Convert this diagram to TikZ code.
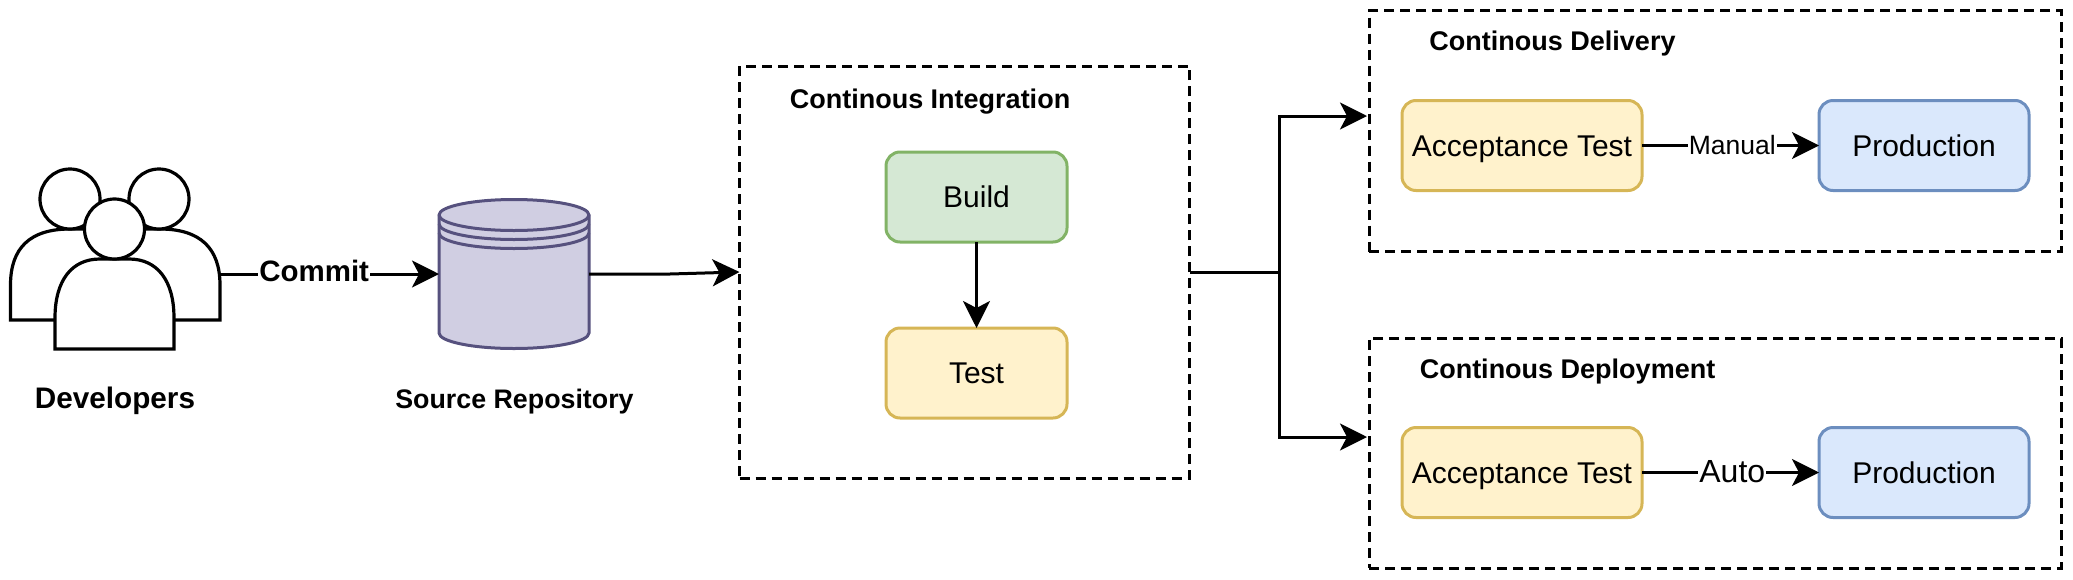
\documentclass[tikz,border=0pt]{standalone}
\usepackage{fontspec}
\setmainfont{Liberation Sans}
\usetikzlibrary{arrows.meta,shapes.geometric,calc,positioning}
\newcommand{\fsz}[1]{\fontsize{#1}{#1}\selectfont}
\definecolor{gfill}{HTML}{D5E8D4}\definecolor{gline}{HTML}{82B366}
\definecolor{yfill}{HTML}{FFF2CC}\definecolor{yline}{HTML}{D6B656}
\definecolor{bfill}{HTML}{DAE8FC}\definecolor{bline}{HTML}{6C8EBF}
\definecolor{pfill}{HTML}{D0CEE2}\definecolor{pline}{HTML}{56517E}
\tikzset{
  x=1pt,y=-1pt,
  every node/.style={inner sep=0pt,outer sep=0pt},
  stage/.style={draw,line width=3pt,rounded corners=14pt,minimum height=90pt,font=\fsz{30},text height=21.5pt,text depth=0pt},
  green stage/.style={stage,draw=gline,fill=gfill,minimum width=181pt},
  yellow stage/.style={stage,draw=yline,fill=yfill,minimum width=181pt},
  wide yellow/.style={stage,draw=yline,fill=yfill,minimum width=240pt},
  blue stage/.style={stage,draw=bline,fill=bfill,minimum width=210pt},
  group box/.style={draw=black,line width=3pt,dash pattern=on 10pt off 6pt},
  title/.style={font=\bfseries\fsz{27}},
  conn/.style={draw=black,line width=3pt,-{Stealth[length=27pt,width=27pt,inset=7pt]}},
  plain/.style={draw=black,line width=3pt},
  person/.style={draw=black,fill=white,line width=3.2pt},
  lbl/.style={fill=white,inner xsep=1pt,inner ysep=2pt},
}
\begin{document}
\begin{tikzpicture}
\useasboundingbox (0,0) rectangle (2073,579);
% group boxes
\node[group box,minimum width=450pt,minimum height=412pt] (ci) at (964.5,272) {};
\node[group box,minimum width=692pt,minimum height=241pt] (delivery) at (1715,131) {};
\node[group box,minimum width=692pt,minimum height=230pt] (deployment) at (1715,453) {};
% titles
\node[title] (citext) at (930,101.5) {Continous Integration};
\node[title] (delivtext) at (1552.5,44) {Continous Delivery};
\node[title] (deploytext) at (1567.5,371.5) {Continous Deployment};
% people
\path[person] (10.5,320) -- (10.5,285) .. controls (10.5,248) and (30,229) .. (70,229) -- (160,229)
  .. controls (200,229) and (220,248) .. (220,285) -- (220,320) -- cycle;
\node[person,circle,minimum size=60pt] (headl) at (70,199) {};
\node[person,circle,minimum size=60pt] (headr) at (159,199) {};
\path[person] (55,349) -- (55,318) .. controls (55,280) and (72,259) .. (100,259) -- (129,259)
  .. controls (157,259) and (174,280) .. (174,318) -- (174,349) -- cycle;
\node[person,circle,minimum size=60pt] (headf) at (114.5,229) {};
\node[minimum width=209.5pt,minimum height=150pt] (devs) at (115.25,274) {};
\node[font=\bfseries\fsz{29.7}] (devtext) at (115,400.5) {Developers};
% repository
\node[minimum width=150pt,minimum height=150pt] (repo) at (514,274) {};
\path[draw=pline,fill=pfill,line width=3pt]
  (439,215) arc[start angle=180,end angle=360,x radius=75,y radius=15.5] -- (589,333)
  arc[start angle=0,end angle=180,x radius=75,y radius=15.5] -- cycle;
\draw[pline,line width=3pt] (439,215) arc[start angle=180,end angle=0,x radius=75,y radius=15.5];
\draw[pline,line width=3pt] (439,224) arc[start angle=180,end angle=0,x radius=75,y radius=15.5];
\draw[pline,line width=3pt] (439,233) arc[start angle=180,end angle=0,x radius=75,y radius=15.5];
\node[font=\bfseries\fsz{26.8}] (repotext) at (514.5,401.5) {Source Repository};
% stages
\node[green stage] (build) at (976.5,197) {Build};
\node[yellow stage] (test) at (976.5,373) {Test};
\node[wide yellow] (acc1) at (1522,145.5) {Acceptance Test};
\node[blue stage] (prod1) at (1924,145.5) {Production};
\node[wide yellow] (acc2) at (1522,472.5) {Acceptance Test};
\node[blue stage] (prod2) at (1924,472.5) {Production};
% helper points
\coordinate (bend) at (670,274);
\coordinate (split) at (1279,272);
\coordinate (delivin) at (1367,116);
\coordinate (deployin) at (1367,437);
% connectors
\draw[conn] (devs.east) -- node[lbl,font=\bfseries\fsz{29.5},pos=0.43,yshift=3pt] (commit) {Commit} (repo.west);
\draw[conn] (repo.east) -- (bend) -- (ci.west);
\draw[conn] (build.south) -- (test.north);
\draw[plain] (ci.east) -- (split);
\draw[conn] (split) |- (delivin);
\draw[conn] (split) |- (deployin);
\draw[conn] (acc1.east) -- node[lbl,font=\fsz{26.5},pos=0.51] (manual) {Manual} (prod1.west);
\draw[conn] (acc2.east) -- node[lbl,font=\fsz{32},pos=0.51,yshift=1pt] (auto) {Auto} (prod2.west);
\end{tikzpicture}
\end{document}
